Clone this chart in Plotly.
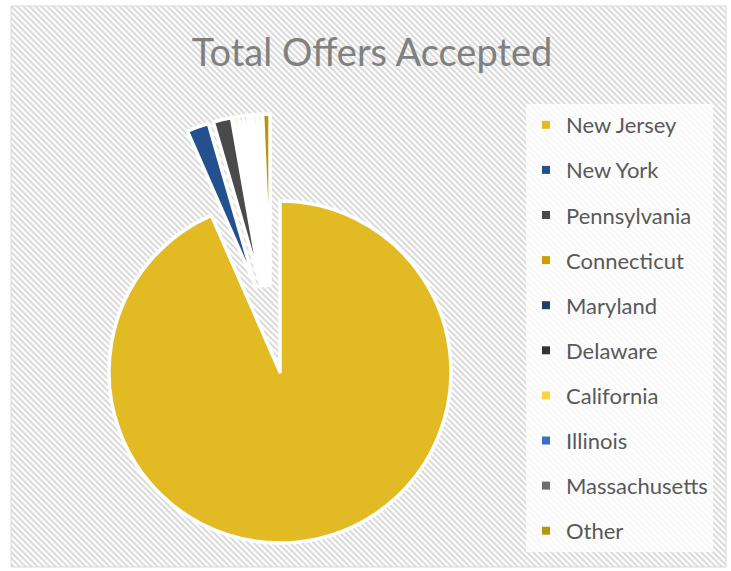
import math
import base64
import plotly.graph_objects as go

# ---------------- data ----------------
states = ["New Jersey", "New York", "Pennsylvania", "Connecticut", "Maryland",
          "Delaware", "California", "Illinois", "Massachusetts", "Other"]
offers_accepted = [270, 6, 5, 1, 1, 1, 1, 1, 1, 2]
state_colors = ["#E2BB24", "#23508F", "#4A4A4A", "#C9A000", "#1F3F73",
                "#333333", "#FFD23F", "#3F70BC", "#6E6E6E", "#B8940A"]
chart_title = "Total Offers Accepted"

# ---------------- layout geometry ----------------
W, H = 731, 571
cx, cy, r = 280.0, 372.0, 171.0   # where the main slice should sit
p = 0.257                          # explosion amount

total = sum(offers_accepted)
bis = math.pi * offers_accepted[0] / total
dx, dy = math.sin(bis), -math.cos(bis)
bx, by = cx - p * r * dx, cy - p * r * dy
h = r * (1 + p)
dom_x = [(bx - h) / W, (bx + h) / W]
dom_y = [1 - (by + h) / H, 1 - (by - h) / H]

# striped background as an inline svg
bg_w, bg_h = 715, 561
svg = f'''<svg xmlns="http://www.w3.org/2000/svg" width="{bg_w}" height="{bg_h}">
<defs><pattern id="s" patternUnits="userSpaceOnUse" width="6" height="6">
<rect width="6" height="6" fill="#ffffff"/>
<path d="M-1,-1 L7,7 M-4,2 L2,8 M4,-2 L8,2" stroke="#dcdcdc" stroke-width="2.2"/>
</pattern></defs>
<rect width="{bg_w}" height="{bg_h}" fill="url(#s)"/></svg>'''
svg_uri = "data:image/svg+xml;base64," + base64.b64encode(svg.encode()).decode()

fig = go.Figure()

fig.add_trace(go.Pie(
    labels=states,
    values=offers_accepted,
    sort=False,
    direction="clockwise",
    rotation=0,
    pull=[p] * len(states),
    marker=dict(colors=state_colors, line=dict(color="#ffffff", width=3.5)),
    textinfo="none",
    hoverinfo="label+value+percent",
    showlegend=False,
    domain=dict(x=dom_x, y=dom_y),
))

for name, col in zip(states, state_colors):
    fig.add_trace(go.Scatter(
        x=[None], y=[None], mode="markers", name=name, legendgroup=name,
        marker=dict(symbol="square", size=8, color=col, line=dict(width=0)),
        showlegend=True, hoverinfo="skip",
    ))

fig.update_layout(
    width=W, height=H,
    margin=dict(l=0, r=0, t=0, b=0),
    paper_bgcolor="#ffffff",
    plot_bgcolor="rgba(0,0,0,0)",
    xaxis=dict(visible=False),
    yaxis=dict(visible=False),
    title=dict(text=chart_title, x=372 / W, xanchor="center", xref="container",
               y=1 - 53 / H, yanchor="middle", yref="container",
               font=dict(family="Lato", size=38, color="#808080")),
    legend=dict(
        x=526 / W, xanchor="left", y=1 - 104 / H, yanchor="top",
        bgcolor="rgba(255,255,255,0.8)",
        font=dict(family="Lato", size=22, color="#595959"),
        traceorder="grouped", tracegroupgap=13.5,
    ),
    images=[dict(source=svg_uri, xref="paper", yref="paper",
                 x=11 / W, y=1 - 6 / H, sizex=bg_w / W, sizey=bg_h / H,
                 xanchor="left", yanchor="top", sizing="stretch", layer="below")],
    shapes=[dict(type="rect", xref="paper", yref="paper",
                 x0=11 / W, x1=726 / W, y0=1 - 567 / H, y1=1 - 6 / H,
                 line=dict(color="#D9D9D9", width=1))],
)

fig.write_html("out.html", config={"displayModeBar": False},
               post_script="document.body.style.margin='0';document.body.style.overflow='hidden';")
